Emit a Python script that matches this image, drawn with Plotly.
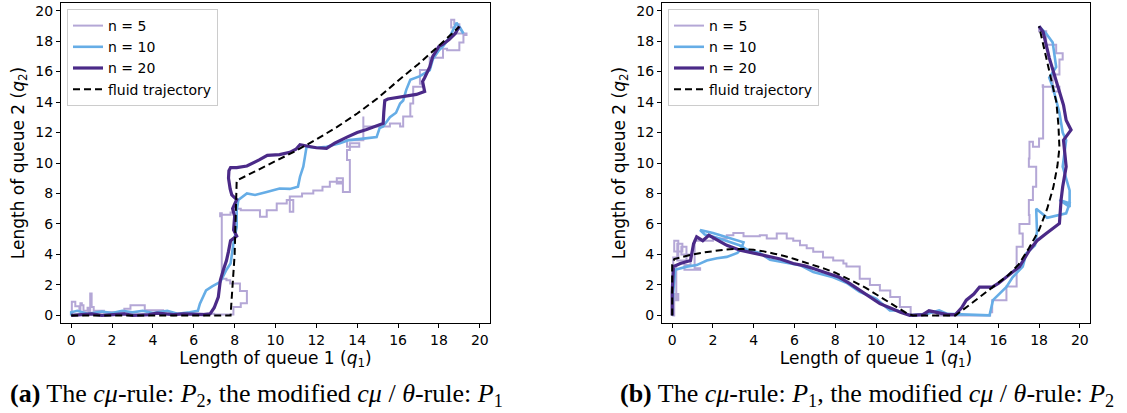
import plotly.graph_objects as go

# ---------------- data ----------------
# Panel (a)
a_fluid_q1 = [0, 7.8, 8.0, 8.1, 8.1, 9.0, 10.0, 11.0, 12.0, 13.0, 14.0, 15.0, 16.0, 17.0, 18.0, 19.0]
a_fluid_q2 = [0, 0, 4.0, 7.6, 8.85, 9.45, 10.1, 10.8, 11.55, 12.35, 13.25, 14.25, 15.4, 16.5, 17.7, 18.95]

a_n5_q1 = [0, 0.03, 0.03, 0.2, 0.4, 0.45, 0.52, 0.6, 0.8, 0.85,
           0.93, 1.0, 1.1, 1.6, 2.4, 2.6, 2.9, 3.37, 3.6, 4.35,
           4.5, 5.3, 6.3, 7.0, 7.8, 7.94, 8.3, 8.6, 8.6, 8.26,
           8.26, 7.78, 7.6, 7.37, 7.37, 7.29, 7.3, 7.8, 7.94, 8.3,
           8.75, 9.24, 9.57, 10.06, 10.55, 10.87, 10.7, 11.3, 11.85, 12.3,
           12.66, 13.3, 13.0, 13.3, 13.64, 13.64, 13.5, 13.64, 14.1, 13.5,
           13.97, 14.3, 14.3, 14.7, 15.1, 15.6, 16.1, 16.25, 16.74, 16.6,
           16.74, 17.2, 17.07, 17.55, 18.2, 18.4, 19.0, 19.2, 19.35, 18.86,
           18.6, 18.75, 19.0]
a_n5_q2 = [0, 0.5, 0.9, 0.6, 0.33, 0.8, 0.66, 0.3, 0.5, 0.2,
           1.43, 0.55, 0.3, 0.2, 0.2, 0.44, 0.66, 0.66, 0.33, 0.33,
           0.1, 0.1, 0.1, 0.05, 0.05, 0.55, 0.8, 1.2, 1.6, 1.6,
           2.1, 2.3, 2.4, 3.4, 6.7, 6.5, 6.6, 6.75, 7.0, 6.9,
           6.9, 6.47, 6.9, 7.35, 7.57, 6.8, 7.8, 8.0, 8.2, 8.44,
           8.77, 9.0, 8.66, 8.1, 9.2, 10.2, 10.85, 11.3, 11.07, 11.5,
           11.5, 13.05, 12.4, 12.4, 12.4, 12.6, 12.4, 13.05, 13.05, 13.9,
           15.0, 15.2, 16.1, 16.9, 17.5, 17.4, 17.9, 18.4, 18.5, 18.9,
           19.4, 19.1, 18.97]

a_n10_q1 = [0, 0, 0.3, 0.8, 1.5, 2.0, 2.5, 3.0, 3.5, 4.0,
            4.7, 5.2, 5.8, 6.2, 6.3, 6.45, 6.6, 6.9, 7.3, 7.6,
            7.8, 7.94, 8.1, 8.1, 8.18, 8.6, 9.0, 9.57, 10.2, 10.7,
            11.1, 11.2, 11.36, 11.44, 11.5, 11.52, 12.0, 12.5, 13.15, 13.6,
            14.3, 14.95, 15.1, 15.27, 15.6, 15.9, 16.1, 16.25, 16.4, 16.6,
            17.07, 17.55, 17.7, 18.0, 18.2, 18.5, 18.86, 19.2, 19.0]
a_n10_q2 = [0, 0.2, 0.3, 0.1, 0.25, 0.15, 0.3, 0.2, 0.3, 0.15,
            0.3, 0.1, 0.2, 0.3, 0.77, 1.2, 1.64, 1.9, 2.2, 3.0,
            3.4, 4.7, 5.8, 6.9, 7.57, 8.0, 7.9, 8.1, 8.33, 8.3,
            8.44, 9.1, 9.76, 10.4, 10.85, 11.07, 11.0, 11.07, 11.3, 11.5,
            11.6, 11.7, 12.3, 12.4, 13.0, 13.3, 13.9, 14.1, 14.8, 15.46,
            15.7, 16.1, 16.8, 17.4, 17.65, 18.2, 19.2, 18.5, 18.97]

a_n20_q1 = [0, 0.5, 1.0, 1.5, 2.0, 2.6, 3.0, 3.8, 4.2, 5.0,
            5.5, 6.0, 6.5, 6.8, 7.0, 7.2, 7.3, 7.45, 7.6, 7.7,
            7.8, 8.1, 7.95, 8.0, 7.9, 8.1, 7.86, 7.78, 7.7, 7.72,
            7.8, 8.1, 8.6, 9.2, 9.6, 10.2, 10.7, 11.0, 11.2, 11.6,
            12.0, 12.5, 12.9, 13.5, 14.0, 14.46, 14.9, 15.27, 15.3, 15.35,
            15.5, 15.9, 16.5, 16.9, 17.3, 17.2, 17.3, 17.55, 17.7, 18.0,
            18.2, 18.5, 18.8, 19.0]
a_n20_q2 = [0, 0.05, 0.1, 0.0, 0.05, 0.1, 0.0, 0.05, 0.15, 0.05,
            0.1, 0.05, 0.05, 0.1, 0.5, 1.2, 2.3, 3.0, 3.6, 4.2,
            4.9, 5.2, 5.6, 6.5, 7.0, 7.6, 7.9, 8.3, 9.0, 9.5,
            9.7, 9.7, 9.8, 10.2, 10.5, 10.55, 10.7, 10.9, 11.2, 11.1,
            11.0, 10.96, 11.3, 11.7, 12.0, 12.2, 12.4, 12.6, 13.3, 14.1,
            14.2, 14.3, 14.4, 14.5, 14.7, 15.35, 15.6, 16.3, 17.0, 17.65,
            17.8, 18.1, 18.5, 18.97]

# Panel (b)
b_fluid_q1 = [0, 0, 0.1, 0.5, 1.0, 1.5, 2.0, 2.5, 3.0, 3.5,
              4.0, 4.5, 5.0, 5.5, 6.0, 6.5, 7.0, 7.5, 8.0, 8.5,
              9.0, 9.5, 10.0, 10.5, 11.0, 11.5, 11.8, 13.9, 14.5, 15.0,
              15.5, 16.0, 16.5, 17.0, 17.5, 18.0, 18.4, 18.7, 18.9, 19.0,
              18.95, 18.85, 18.6, 18.35, 18.0]
b_fluid_q2 = [0, 3.3, 3.7, 3.85, 4.0, 4.12, 4.22, 4.3, 4.35, 4.35,
              4.3, 4.2, 4.05, 3.9, 3.7, 3.5, 3.28, 3.05, 2.8, 2.5,
              2.15, 1.8, 1.4, 1.0, 0.55, 0.15, 0, 0, 0.6, 1.1,
              1.6, 2.1, 2.65, 3.35, 4.4, 5.6, 7.0, 8.4, 9.8, 11.0,
              12.5, 14.0, 15.5, 17.0, 18.97]

b_n5_q1 = [0, 0.1, 0.3, 0.2, 0.05, 0.3, 0.1, 0.5, 0.25, 0.7,
           0.45, 0.9, 0.6, 1.37, 1.1, 1.4, 2.0, 2.68, 3.0, 3.5,
           4.3, 4.64, 5.13, 5.29, 5.62, 5.94, 6.27, 6.6, 6.92, 7.4,
           7.9, 8.4, 8.55, 9.2, 9.7, 10.19, 10.7, 11.17, 11.7, 12.5,
           13.0, 13.8, 14.5, 15.6, 15.7, 16.4, 16.9, 16.9, 17.2, 17.04,
           17.53, 17.5, 17.7, 17.86, 17.5, 17.53, 17.7, 18.0, 18.2, 18.2,
           18.18, 19.0, 18.67, 19.0, 19.16, 18.84, 18.35, 18.0]
b_n5_q2 = [0, 1.4, 1.0, 3.2, 3.8, 4.9, 4.2, 4.7, 3.6, 4.5,
           4.0, 3.3, 3.0, 3.1, 4.9, 4.9, 5.05, 5.26, 5.4, 5.2,
           5.26, 5.05, 5.37, 5.37, 5.05, 4.9, 4.6, 4.4, 4.17, 3.8,
           3.6, 3.4, 3.2, 2.4, 2.0, 1.64, 1.2, 0.55, 0.0, 0.2,
           0.0, 0.0, 0.0, 0.2, 1.0, 1.9, 3.0, 4.5, 5.37, 6.0,
           6.58, 7.57, 8.44, 9.76, 10.3, 11.4, 11.07, 11.6, 13.05, 15.1,
           15.0, 14.7, 15.8, 16.8, 17.2, 17.76, 18.65, 18.97]

b_n10_q1 = [0, 0.05, 0.15, 0.72, 1.2, 1.7, 2.2, 2.68, 3.2, 3.4,
            3.5, 3.0, 2.5, 2.0, 1.37, 1.6, 2.2, 2.8, 3.3, 3.7,
            4.3, 4.8, 5.5, 6.27, 6.92, 7.9, 8.6, 9.2, 10.0, 10.68,
            11.0, 11.7, 12.5, 13.1, 13.5, 14.2, 15.0, 15.57, 15.74, 16.4,
            16.7, 17.2, 17.37, 17.8, 17.9, 17.86, 18.4, 19.33, 19.5, 19.0,
            19.5, 19.5, 19.16, 19.33, 19.16, 19.0, 18.67, 18.5, 18.84, 18.67,
            18.35, 18.0]
b_n10_q2 = [0, 1.5, 3.0, 3.2, 3.3, 3.6, 3.75, 3.84, 4.1, 4.4,
            4.8, 5.0, 5.2, 5.4, 5.6, 5.3, 5.1, 4.85, 4.6, 4.3,
            4.1, 3.65, 3.5, 3.3, 2.85, 2.5, 2.1, 1.55, 1.1, 0.33,
            0.33, 0.0, 0.1, 0.33, 0.1, 0.05, 0.0, 0.0, 1.0, 1.86,
            2.5, 3.2, 4.06, 4.6, 5.5, 7.0, 6.4, 6.7, 7.35, 7.57,
            7.12, 8.2, 9.76, 11.5, 12.0, 13.3, 15.0, 15.6, 16.3, 17.9,
            18.5, 18.97]

b_n20_q1 = [0, 0, 0.06, 0.4, 0.9, 1.05, 1.2, 1.5, 1.8, 2.2,
            2.68, 3.33, 4.0, 4.7, 5.3, 5.94, 6.5, 6.92, 7.5, 8.2,
            8.7, 9.2, 9.7, 10.19, 10.68, 11.2, 11.66, 12.3, 12.6, 13.0,
            13.5, 13.9, 14.2, 14.43, 14.8, 15.08, 15.7, 16.0, 16.4, 17.04,
            17.53, 17.9, 18.35, 19.0, 19.08, 19.16, 19.33, 19.2, 19.57, 19.33,
            19.2, 18.84, 18.5, 18.2, 18.0]
b_n20_q2 = [0, 1.5, 3.2, 3.4, 3.6, 4.7, 5.15, 4.9, 5.26, 4.95,
            4.6, 4.28, 4.1, 3.9, 3.7, 3.4, 3.25, 3.07, 2.8, 2.5,
            2.1, 1.64, 1.2, 0.77, 0.5, 0.2, 0.0, 0.05, 0.3, 0.2,
            0.05, 0.05, 0.5, 1.0, 1.4, 1.86, 1.86, 2.1, 2.5, 3.2,
            4.28, 4.9, 5.37, 6.03, 7.57, 8.44, 9.76, 11.5, 12.17, 12.8,
            13.8, 15.35, 16.9, 18.6, 18.97]

tick_vals = [0, 2, 4, 6, 8, 10, 12, 14, 16, 18, 20]
series_names = ["n = 5", "n = 10", "n = 20", "fluid trajectory"]
captions = [
    "<b>(a)</b> The <i>cμ</i>-rule: <i>P</i><sub>2</sub>, the modified <i>cμ</i> / <i>θ</i>-rule: <i>P</i><sub>1</sub>",
    "<b>(b)</b> The <i>cμ</i>-rule: <i>P</i><sub>1</sub>, the modified <i>cμ</i> / <i>θ</i>-rule: <i>P</i><sub>2</sub>",
]

# ---------------- styles ----------------
C5, C10, C20 = "#b4a7d6", "#66ade6", "#4b2a88"
W, H = 1127, 413

fig = go.Figure()

panels = [
    (a_n5_q1, a_n5_q2, a_n10_q1, a_n10_q2, a_n20_q1, a_n20_q2, a_fluid_q1, a_fluid_q2, "x", "y", "legend"),
    (b_n5_q1, b_n5_q2, b_n10_q1, b_n10_q2, b_n20_q1, b_n20_q2, b_fluid_q1, b_fluid_q2, "x2", "y2", "legend2"),
]
for (n5x, n5y, n10x, n10y, n20x, n20y, fx, fy, xa, ya, lg) in panels:
    fig.add_trace(go.Scatter(x=n5x, y=n5y, mode="lines", name=series_names[0],
                             line=dict(color=C5, width=2, shape="hv"),
                             xaxis=xa, yaxis=ya, legend=lg))
    fig.add_trace(go.Scatter(x=n10x, y=n10y, mode="lines", name=series_names[1],
                             line=dict(color=C10, width=2.6),
                             xaxis=xa, yaxis=ya, legend=lg))
    fig.add_trace(go.Scatter(x=n20x, y=n20y, mode="lines", name=series_names[2],
                             line=dict(color=C20, width=3.2),
                             xaxis=xa, yaxis=ya, legend=lg))
    fig.add_trace(go.Scatter(x=fx, y=fy, mode="lines", name=series_names[3],
                             line=dict(color="black", width=2, dash="7px,4px"),
                             xaxis=xa, yaxis=ya, legend=lg))

tickfont = dict(family="DejaVu Sans", size=14, color="black")
axis_common = dict(range=[-0.5, 20.5], tickvals=tick_vals, ticks="outside", ticklen=4,
                   tickwidth=1, tickcolor="black", showline=True, linecolor="black",
                   linewidth=1, mirror=True, showgrid=False, zeroline=False,
                   tickfont=tickfont, automargin=False)

yd = [1 - 323 / H, 1 - 3 / H]
xd1 = [61 / W, 490 / W]
xd2 = [662 / W, 1090 / W]

title_font = dict(family="DejaVu Sans", size=17, color="black")
xtitle = dict(text="Length of queue 1 (<i>q</i><sub>1</sub>)", font=title_font, standoff=3)
ytitle = dict(text="Length of queue 2 (<i>q</i><sub>2</sub>)", font=title_font, standoff=6)

legend_common = dict(bgcolor="rgba(255,255,255,0.85)", bordercolor="#cccccc", borderwidth=1,
                     font=dict(family="DejaVu Sans", size=14, color="black"),
                     xanchor="left", yanchor="top", tracegroupgap=0, itemwidth=30)

cap_font = dict(family="Liberation Serif", size=26, color="black")

fig.update_layout(
    width=W, height=H,
    margin=dict(l=0, r=0, t=0, b=0),
    paper_bgcolor="white", plot_bgcolor="white",
    xaxis=dict(domain=xd1, anchor="y", title=xtitle, **axis_common),
    yaxis=dict(domain=yd, anchor="x", title=ytitle, **axis_common),
    xaxis2=dict(domain=xd2, anchor="y2", title=xtitle, **axis_common),
    yaxis2=dict(domain=yd, anchor="x2", title=ytitle, **axis_common),
    legend=dict(x=67 / W, y=1 - 9 / H, **legend_common),
    legend2=dict(x=668 / W, y=1 - 9 / H, **legend_common),
    showlegend=True,
    annotations=[
        dict(text=captions[0], x=256 / W, y=1 - 395 / H, xref="paper", yref="paper",
             xanchor="center", yanchor="middle", showarrow=False, font=cap_font),
        dict(text=captions[1], x=867 / W, y=1 - 395 / H, xref="paper", yref="paper",
             xanchor="center", yanchor="middle", showarrow=False, font=cap_font),
    ],
)

fig.write_html("out.html")
